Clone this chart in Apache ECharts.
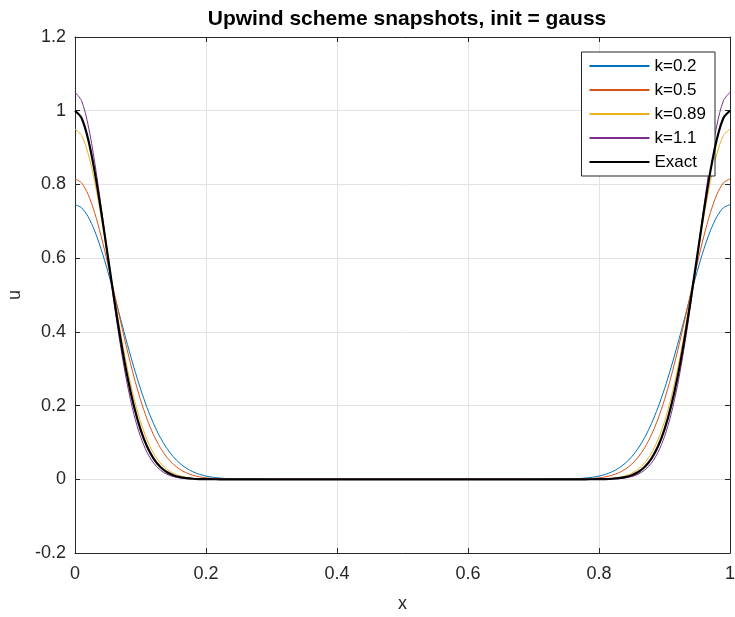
<!DOCTYPE html>
<html>
<head>
<meta charset="utf-8">
<script src="https://cdn.jsdelivr.net/npm/echarts@6/dist/echarts.min.js"></script>
<style>
  html, body { margin: 0; padding: 0; background: #fff; }
  #chart { width: 735px; height: 617px; }
</style>
</head>
<body>
<div id="chart"></div>
<script>
// Sample positions along x (fine near both ends, coarse in the flat middle)
const xs = [
  0, 0.01, 0.02, 0.03, 0.04, 0.05, 0.06, 0.07, 0.08, 0.09, 0.10, 0.11, 0.12,
  0.13, 0.14, 0.15, 0.16, 0.17, 0.18, 0.19, 0.20, 0.21, 0.22, 0.23, 0.24, 0.25,
  0.30, 0.35, 0.40, 0.45, 0.50, 0.55, 0.60, 0.65, 0.70,
  0.75, 0.76, 0.77, 0.78, 0.79, 0.80, 0.81, 0.82, 0.83, 0.84, 0.85, 0.86, 0.87,
  0.88, 0.89, 0.90, 0.91, 0.92, 0.93, 0.94, 0.95, 0.96, 0.97, 0.98, 0.99, 1.00
];

// Upwind solution snapshots for each Courant number k
const uK02 = [
  0.745, 0.7368, 0.7126, 0.6742, 0.6238, 0.5645, 0.4996, 0.4324, 0.3661, 0.3032, 0.2455, 0.1945, 0.1507,
  0.1141, 0.0846, 0.0613, 0.0435, 0.0301, 0.0204, 0.0135, 0.0088, 0.0056, 0.0035, 0.0021, 0.0012, 0.0007,
  0, 0, 0, 0, 0, 0, 0, 0, 0,
  0.0007, 0.0012, 0.0021, 0.0035, 0.0056, 0.0088, 0.0135, 0.0204, 0.0301, 0.0435, 0.0613, 0.0846, 0.1141,
  0.1507, 0.1945, 0.2455, 0.3032, 0.3661, 0.4324, 0.4996, 0.5645, 0.6238, 0.6742, 0.7126, 0.7368, 0.745
];
const uK05 = [
  0.815, 0.8043, 0.7728, 0.7232, 0.6590, 0.5847, 0.5053, 0.4251, 0.3484, 0.2780, 0.2160, 0.1634, 0.1204,
  0.0864, 0.0604, 0.0411, 0.0272, 0.0176, 0.0110, 0.0067, 0.0040, 0.0023, 0.0013, 0.0007, 0.0004, 0.0002,
  0, 0, 0, 0, 0, 0, 0, 0, 0,
  0.0002, 0.0004, 0.0007, 0.0013, 0.0023, 0.0040, 0.0067, 0.0110, 0.0176, 0.0272, 0.0411, 0.0604, 0.0864,
  0.1204, 0.1634, 0.2160, 0.2780, 0.3484, 0.4251, 0.5053, 0.5847, 0.6590, 0.7232, 0.7728, 0.8043, 0.815
];
const uK089 = [
  0.95, 0.9330, 0.8838, 0.8076, 0.7117, 0.6050, 0.4960, 0.3923, 0.2992, 0.2202, 0.1562, 0.1070, 0.0706,
  0.0450, 0.0276, 0.0164, 0.0093, 0.0051, 0.0027, 0.0014, 0.0007, 0.0003, 0.0002, 0.0001, 0, 0,
  0, 0, 0, 0, 0, 0, 0, 0, 0,
  0, 0, 0.0001, 0.0002, 0.0003, 0.0007, 0.0014, 0.0027, 0.0051, 0.0093, 0.0164, 0.0276, 0.0450,
  0.0706, 0.1070, 0.1562, 0.2202, 0.2992, 0.3923, 0.4960, 0.6050, 0.7117, 0.8076, 0.8838, 0.9330, 0.95
];
const uK11 = [
  1.05, 1.0271, 0.9614, 0.8610, 0.7378, 0.6050, 0.4747, 0.3564, 0.2560, 0.1760, 0.1158, 0.0729, 0.0439,
  0.0253, 0.0139, 0.0073, 0.0037, 0.0018, 0.0008, 0.0004, 0.0002, 0.0001, 0, 0, 0, 0,
  0, 0, 0, 0, 0, 0, 0, 0, 0,
  0, 0, 0, 0, 0.0001, 0.0002, 0.0004, 0.0008, 0.0018, 0.0037, 0.0073, 0.0139, 0.0253,
  0.0439, 0.0729, 0.1158, 0.1760, 0.2560, 0.3564, 0.4747, 0.6050, 0.7378, 0.8610, 0.9614, 1.0271, 1.05
];
// Exact (advected) Gaussian profile
const uExact = [
  1, 0.9802, 0.9231, 0.8353, 0.7261, 0.6065, 0.4868, 0.3753, 0.2780, 0.1979, 0.1353, 0.0889, 0.0561,
  0.0340, 0.0198, 0.0111, 0.0060, 0.0031, 0.0015, 0.0007, 0.0003, 0.0001, 0, 0, 0, 0,
  0, 0, 0, 0, 0, 0, 0, 0, 0,
  0, 0, 0, 0, 0.0001, 0.0003, 0.0007, 0.0015, 0.0031, 0.0060, 0.0111, 0.0198, 0.0340,
  0.0561, 0.0889, 0.1353, 0.1979, 0.2780, 0.3753, 0.4868, 0.6065, 0.7261, 0.8353, 0.9231, 0.9802, 1
];

const seriesNames = ['k=0.2', 'k=0.5', 'k=0.89', 'k=1.1', 'Exact'];
const seriesValues = [uK02, uK05, uK089, uK11, uExact];
const seriesColors = ['#0072BD', '#D95319', '#EDB120', '#7E2F8E', '#000000'];
const seriesWidths = [1, 1, 1, 1, 2.2];

const xTicks = { min: 0, max: 1, step: 0.2 };
const yTicks = { min: -0.2, max: 1.2, step: 0.2 };

const FONT = '"Liberation Sans", Arial, Helvetica, sans-serif';
const AXIS_COLOR = '#262626';
const GRID_COLOR = '#e3e3e3';

function pairs(values) {
  return xs.map((x, i) => [x, values[i]]);
}

const labelFmt = v => String(Math.round(v * 10) / 10);

const chart = echarts.init(document.getElementById('chart'), null, { renderer: 'canvas' });

const baseX = {
  type: 'value',
  min: xTicks.min, max: xTicks.max, interval: xTicks.step,
  axisLine: { show: true, onZero: false, lineStyle: { color: AXIS_COLOR, width: 1 } },
  axisTick: { show: true, inside: true, length: 5, lineStyle: { color: AXIS_COLOR } }
};
const baseY = {
  type: 'value',
  min: yTicks.min, max: yTicks.max, interval: yTicks.step,
  axisLine: { show: true, onZero: false, lineStyle: { color: AXIS_COLOR, width: 1 } },
  axisTick: { show: true, inside: true, length: 5, lineStyle: { color: AXIS_COLOR } }
};

chart.setOption({
  animation: false,
  backgroundColor: '#ffffff',
  title: {
    text: 'Upwind scheme snapshots, init = gauss',
    left: 402, top: 4, textAlign: 'center',
    textStyle: { fontFamily: FONT, fontSize: 21, fontWeight: 'bold', color: '#000' }
  },
  grid: { left: 75, right: 5, top: 37, bottom: 64, containLabel: false, outerBoundsMode: 'none' },
  legend: {
    orient: 'vertical',
    right: 20, top: 52,
    data: seriesNames,
    itemWidth: 60, itemHeight: 14, itemGap: 6,
    padding: [5, 9, 5, 7],
    backgroundColor: '#ffffff',
    borderColor: AXIS_COLOR, borderWidth: 1, borderRadius: 0,
    itemStyle: { opacity: 0 },
    textStyle: { fontFamily: FONT, fontSize: 17, color: '#000', lineHeight: 18 }
  },
  xAxis: [
    Object.assign({}, baseX, {
      position: 'bottom',
      name: 'x', nameLocation: 'middle', nameGap: 42,
      nameTextStyle: { fontFamily: FONT, fontSize: 18, color: AXIS_COLOR },
      axisLabel: { show: true, margin: 12, fontFamily: FONT, fontSize: 18, color: AXIS_COLOR, formatter: labelFmt },
      splitLine: { show: true, lineStyle: { color: GRID_COLOR, width: 1 } }
    }),
    Object.assign({}, baseX, {
      position: 'top',
      axisLabel: { show: false },
      splitLine: { show: false }
    })
  ],
  yAxis: [
    Object.assign({}, baseY, {
      position: 'left',
      name: 'u', nameLocation: 'middle', nameGap: 50,
      nameTextStyle: { fontFamily: FONT, fontSize: 18, color: AXIS_COLOR },
      axisLabel: { show: true, margin: 9, fontFamily: FONT, fontSize: 18, color: AXIS_COLOR, formatter: labelFmt },
      splitLine: { show: true, lineStyle: { color: GRID_COLOR, width: 1 } }
    }),
    Object.assign({}, baseY, {
      position: 'right',
      axisLabel: { show: false },
      splitLine: { show: false }
    })
  ],
  series: seriesNames.map((name, i) => ({
    name: name,
    type: 'line',
    xAxisIndex: 0, yAxisIndex: 0,
    data: pairs(seriesValues[i]),
    showSymbol: false,
    symbol: 'none',
    smooth: 0.3,
    color: seriesColors[i],
    lineStyle: { color: seriesColors[i], width: seriesWidths[i] },
    z: i === 4 ? 5 : 3
  }))
});
</script>
</body>
</html>
